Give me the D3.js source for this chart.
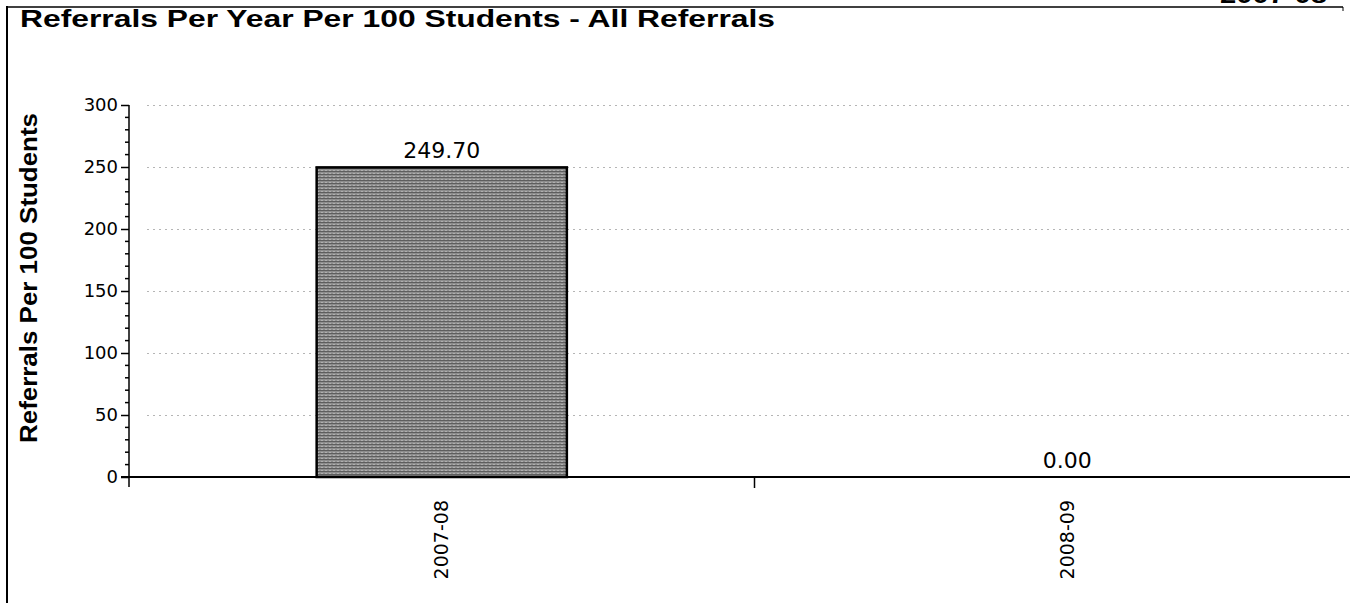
<!DOCTYPE html>
<html>
<head>
<meta charset="utf-8">
<script src="https://cdn.jsdelivr.net/npm/d3@7"></script>
<style>
  html, body { margin: 0; padding: 0; background: #fff; }
  svg { display: block; }
</style>
</head>
<body>
<svg id="chart" width="1350" height="603"></svg>
<script>
const categories = ["2007-08", "2008-09"];
const values = [249.70, 0.00];
const valueLabels = ["249.70", "0.00"];
const yTicks = [0, 50, 100, 150, 200, 250, 300];
const yMinorTicks = d3.range(0, 301, 10);
const title = "Referrals Per Year Per 100 Students - All Referrals";
const yTitle = "Referrals Per 100 Students";
const cornerText = "2007-08";

(function () {
const svg = d3.select("#chart");
const W = 1350, H = 603;
const pLeft = 129, pRight = 1380, pTop = 105, pBottom = 477;

const x = d3.scaleBand().domain(categories).range([pLeft, pRight]).paddingInner(0).paddingOuter(0);
const y = d3.scaleLinear().domain([0, 300]).range([pBottom, pTop]);

// texture pattern for bar
const defs = svg.append("defs");
const pat = defs.append("pattern").attr("id", "tex").attr("patternUnits", "userSpaceOnUse")
  .attr("width", 4).attr("height", 3);
pat.append("rect").attr("width", 4).attr("height", 3).attr("fill", "#8e8e8e");
pat.append("rect").attr("y", 0).attr("width", 4).attr("height", 1).attr("fill", "#5e5e5e");
pat.append("rect").attr("x", 1).attr("y", 2).attr("width", 2).attr("height", 1).attr("fill", "#b0b0b0");

// frame
svg.append("line").attr("x1", 7).attr("x2", 7).attr("y1", 6).attr("y2", H)
  .attr("stroke", "#000").attr("stroke-width", 2);
svg.append("line").attr("x1", 7).attr("x2", 1343).attr("y1", 7).attr("y2", 7)
  .attr("stroke", "#000").attr("stroke-width", 1.5);
svg.append("line").attr("x1", 1343).attr("x2", 1343).attr("y1", 7).attr("y2", 11)
  .attr("stroke", "#000").attr("stroke-width", 1);

// corner text (cut off at top, as in the reference)
svg.append("text").attr("x", 1220).attr("y", 3)
  .attr("font-family", "Liberation Sans, Arial, sans-serif").attr("font-weight", "bold")
  .attr("font-size", 24).attr("textLength", 107).attr("lengthAdjust", "spacingAndGlyphs")
  .attr("fill", "#000").text(cornerText);

// title
svg.append("text").attr("x", 20).attr("y", 27)
  .attr("font-family", "Liberation Sans, Arial, sans-serif").attr("font-weight", "bold")
  .attr("font-size", 24).attr("textLength", 755).attr("lengthAdjust", "spacingAndGlyphs")
  .attr("fill", "#000").text(title);

// gridlines
svg.append("g").selectAll("line").data(yTicks.filter(d => d > 0)).join("line")
  .attr("x1", pLeft + 18).attr("x2", W)
  .attr("y1", d => Math.round(y(d)) + 0.5).attr("y2", d => Math.round(y(d)) + 0.5)
  .attr("stroke", "#b5b5b5").attr("stroke-width", 1).attr("stroke-dasharray", "2,4");

// bars
svg.append("g").selectAll("rect").data(values).join("rect")
  .attr("x", (d, i) => x(categories[i]) + x.bandwidth() * 0.3)
  .attr("width", x.bandwidth() * 0.4)
  .attr("y", d => y(d))
  .attr("height", d => y(0) - y(d))
  .attr("fill", "url(#tex)")
  .attr("stroke", d => d > 0 ? "#000" : "none").attr("stroke-width", 2.5);

// value labels
svg.append("g").selectAll("text").data(values).join("text")
  .attr("x", (d, i) => x(categories[i]) + x.bandwidth() / 2)
  .attr("y", d => y(d) - 9)
  .attr("text-anchor", "middle")
  .attr("font-family", "DejaVu Sans, Verdana, sans-serif").attr("font-size", 22)
  .attr("fill", "#000").text((d, i) => valueLabels[i]);

// y axis
const yAxis = d3.axisLeft(y).tickValues(yTicks).tickSize(8).tickPadding(3).tickFormat(d3.format("d"));
const gy = svg.append("g").attr("transform", `translate(${pLeft},0)`).call(yAxis);
gy.select(".domain").remove();
gy.selectAll(".tick line").attr("stroke", "#000").attr("stroke-width", 1.5);
gy.selectAll(".tick text").attr("font-family", "DejaVu Sans, Verdana, sans-serif")
  .attr("font-size", 18).attr("fill", "#000");
svg.append("g").selectAll("line").data(yMinorTicks.filter(d => d % 50 !== 0)).join("line")
  .attr("x1", pLeft - 4).attr("x2", pLeft)
  .attr("y1", d => y(d)).attr("y2", d => y(d))
  .attr("stroke", "#000").attr("stroke-width", 1.5);
svg.append("line").attr("x1", pLeft).attr("x2", pLeft).attr("y1", y(300)).attr("y2", pBottom + 10)
  .attr("stroke", "#000").attr("stroke-width", 1.5);

// x axis
svg.append("line").attr("x1", pLeft - 8).attr("x2", W).attr("y1", pBottom).attr("y2", pBottom)
  .attr("stroke", "#000").attr("stroke-width", 2);
svg.append("g").selectAll("line").data(categories.slice(1)).join("line")
  .attr("x1", d => x(d)).attr("x2", d => x(d)).attr("y1", pBottom).attr("y2", pBottom + 11)
  .attr("stroke", "#000").attr("stroke-width", 1.5);
svg.append("g").selectAll("text").data(categories).join("text")
  .attr("transform", d => `translate(${x(d) + x.bandwidth() / 2},${pBottom + 23}) rotate(-90)`)
  .attr("text-anchor", "end").attr("dy", "0.35em")
  .attr("font-family", "DejaVu Sans, Verdana, sans-serif").attr("font-size", 19)
  .attr("fill", "#000").text(d => d);

// y title
svg.append("text")
  .attr("transform", `translate(37,${(113 + 443) / 2}) rotate(-90)`)
  .attr("text-anchor", "middle")
  .attr("font-family", "Liberation Sans, Arial, sans-serif").attr("font-weight", "bold")
  .attr("font-size", 23).attr("textLength", 330).attr("lengthAdjust", "spacingAndGlyphs")
  .attr("fill", "#000").text(yTitle);
})();
</script>
</body>
</html>
